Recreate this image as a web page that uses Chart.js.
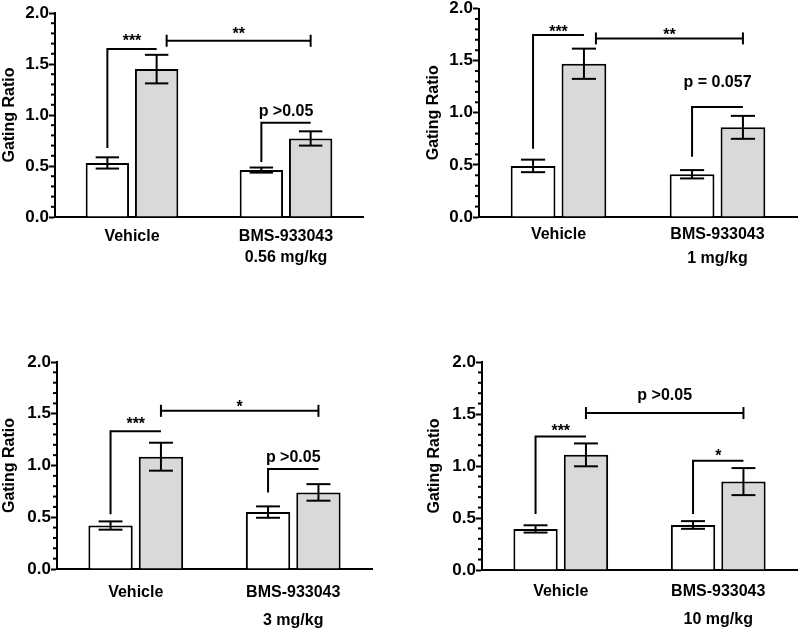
<!DOCTYPE html>
<html>
<head>
<meta charset="utf-8">
<script src="https://cdn.jsdelivr.net/npm/chart.js@4.4.1/dist/chart.umd.min.js"></script>
<style>
html,body{margin:0;padding:0;background:#fff;}
#wrap{position:relative;width:800px;height:632px;overflow:hidden;}
canvas{position:absolute;}
</style>
</head>
<body>
<div id="wrap">
<canvas id="c1" width="400" height="300" style="left:0;top:0"></canvas>
<canvas id="c2" width="400" height="300" style="left:400px;top:0"></canvas>
<canvas id="c3" width="400" height="312" style="left:0;top:320px"></canvas>
<canvas id="c4" width="400" height="312" style="left:400px;top:320px"></canvas>
</div>
<script>

// data
const categories = ["Vehicle", "BMS-933043"]
const doses = ["0.56 mg/kg", "1 mg/kg", "3 mg/kg", "10 mg/kg"]
const yTicks = [0, 0.5, 1.0, 1.5, 2.0]

const openMean1 = [0.53, 0.46]
const openSem1 = [0.055, 0.025]
const greyMean1 = [1.45, 0.77]
const greySem1 = [0.14, 0.07]

const openMean2 = [0.49, 0.41]
const openSem2 = [0.06, 0.04]
const greyMean2 = [1.47, 0.86]
const greySem2 = [0.145, 0.11]

const openMean3 = [0.42, 0.55]
const openSem3 = [0.04, 0.055]
const greyMean3 = [1.085, 0.74]
const greySem3 = [0.135, 0.08]

const openMean4 = [0.395, 0.433]
const openSem4 = [0.035, 0.037]
const greyMean4 = [1.107, 0.85]
const greySem4 = [0.11, 0.13]

// significance marks: a/b = [dataset, category], y in data units
const marks1 = [
{type:"leg", a:[0,0], b:[1,0], y0:0.676, y:1.647, text:"***", ty:1.678},
{type:"span", a:[1,0], b:[1,1], y:1.728, text:"**", ty:1.75, shift:10},
{type:"leg", a:[0,1], b:[1,1], y0:0.54, y:0.925, text:"p >0.05", ty:0.99}
]
const marks2 = [
{type:"leg", a:[0,0], b:[1,0], y0:0.654, y:1.746, text:"***", ty:1.73},
{type:"span", a:[1,0], b:[1,1], y:1.713, text:"**", ty:1.70, shift:12},
{type:"leg", a:[0,1], b:[1,1], y0:0.577, y:1.056, text:"p = 0.057", ty:1.243}
]
const marks3 = [
{type:"leg", a:[0,0], b:[1,0], y0:0.53, y:1.332, text:"***", ty:1.356},
{type:"span", a:[1,0], b:[1,1], y:1.528, text:"*", ty:1.52, shift:0},
{type:"leg", a:[0,1], b:[1,1], y0:0.738, y:0.966, text:"p >0.05", ty:1.029}
]
const marks4 = [
{type:"leg", a:[0,0], b:[1,0], y0:0.539, y:1.284, text:"***", ty:1.285},
{type:"span", a:[1,0], b:[1,1], y:1.509, text:"p >0.05", ty:1.63, shift:0},
{type:"leg", a:[0,1], b:[1,1], y0:0.539, y:1.05, text:"*", ty:1.048}
]

const marksPorPanel = {c1:marks1, c2:marks2, c3:marks3, c4:marks4}
const semPorPanel = {c1:[openSem1,greySem1], c2:[openSem2,greySem2], c3:[openSem3,greySem3], c4:[openSem4,greySem4]}

const FONT = "'Liberation Sans', Arial, sans-serif"

function line(ctx,x1,y1,x2,y2){
ctx.beginPath()
ctx.moveTo(x1,y1)
ctx.lineTo(x2,y2)
ctx.stroke()
}

const extras = {
id:"extras",
afterDraw(chart){

const ctx = chart.ctx
const ys = chart.scales.y
const area = chart.chartArea
const id = chart.canvas.id
const marks = marksPorPanel[id]
const sems = semPorPanel[id]

ctx.save()
ctx.strokeStyle = "#000"
ctx.fillStyle = "#000"
ctx.lineWidth = 2
ctx.lineCap = "butt"

// minor ticks, 4 between each major tick
for(let i=0;i<yTicks.length-1;i++){
const step = (yTicks[i+1]-yTicks[i])/5
for(let k=1;k<5;k++){
const py = ys.getPixelForValue(yTicks[i]+step*k)
line(ctx, area.left-4, py, area.left, py)
}
}

// error bars
chart.data.datasets.forEach((ds,di)=>{
chart.getDatasetMeta(di).data.forEach((bar,i)=>{
const v = ds.data[i]
const e = sems[di][i]
const t = ys.getPixelForValue(v+e)
const b = ys.getPixelForValue(v-e)
const hw = bar.width*0.27
line(ctx, bar.x, t, bar.x, b)
line(ctx, bar.x-hw, t, bar.x+hw, t)
line(ctx, bar.x-hw, b, bar.x+hw, b)
})
})

// brackets and p-values
ctx.font = "bold 16px " + FONT
ctx.textAlign = "center"
ctx.textBaseline = "alphabetic"

marks.forEach(m=>{
const xa = chart.getDatasetMeta(m.a[0]).data[m.a[1]].x + (m.shift||0)
const xb = chart.getDatasetMeta(m.b[0]).data[m.b[1]].x
const py = ys.getPixelForValue(m.y)

if(m.type==="leg"){
const p0 = ys.getPixelForValue(m.y0)
ctx.beginPath()
ctx.moveTo(xa,p0)
ctx.lineTo(xa,py)
ctx.lineTo(xb,py)
ctx.stroke()
}else{
line(ctx, xa, py, xb, py)
line(ctx, xa, py-6, xa, py+6)
line(ctx, xb, py-6, xb, py+6)
}

ctx.fillText(m.text, (xa+xb)/2, ys.getPixelForValue(m.ty))
})

ctx.restore()
}
}

function crearPanel(id, dose, openMean, greyMean, lay){

new Chart(document.getElementById(id),{

type:"bar",

data:{
labels:[categories[0], [categories[1], dose]],
datasets:[
{data:openMean, backgroundColor:"#ffffff", borderColor:"#000", borderWidth:2, borderSkipped:"bottom"},
{data:greyMean, backgroundColor:"#d8d9db", borderColor:"#000", borderWidth:2, borderSkipped:"bottom"}
]
},

options:{
responsive:false,
animation:false,
events:[],
layout:{padding:{left:lay.left, top:lay.top, right:lay.right, bottom:0}},
datasets:{bar:{categoryPercentage:0.64, barPercentage:0.88}},
plugins:{
legend:{display:false},
tooltip:{enabled:false}
},
scales:{
x:{
grid:{display:false, drawTicks:false},
border:{display:true, color:"#000", width:2},
ticks:{
color:"#000",
padding:lay.labPad,
maxRotation:0,
autoSkip:false,
font:{family:FONT, size:16, weight:"bold", lineHeight:lay.lh}
},
afterFit:s=>{ s.height = lay.xh }
},
y:{
min:0,
max:2,
grid:{drawOnChartArea:false, drawTicks:true, tickLength:6, tickWidth:2, tickColor:"#000"},
border:{display:true, color:"#000", width:2},
afterBuildTicks:s=>{ s.ticks = yTicks.map(v=>({value:v})) },
ticks:{
color:"#000",
padding:0,
callback:v=>Number(v).toFixed(1),
font:{family:FONT, size:17, weight:"bold", lineHeight:1}
},
title:{
display:true,
text:"Gating Ratio",
color:"#000",
padding:0,
font:{family:FONT, size:16, weight:"bold", lineHeight:1.2}
},
afterFit:s=>{ s.width = lay.yw }
}
}
},

plugins:[extras]

})

}

crearPanel("c1", doses[0], openMean1, greyMean1,
{left:0, top:13, right:37, yw:55, xh:83, labPad:9, lh:1.32})
crearPanel("c2", doses[1], openMean2, greyMean2,
{left:24, top:8, right:3, yw:55, xh:83, labPad:5, lh:1.52})
crearPanel("c3", doses[2], openMean3, greyMean3,
{left:0, top:42, right:28, yw:57, xh:63, labPad:10, lh:1.75})
crearPanel("c4", doses[3], openMean4, greyMean4,
{left:25, top:42, right:3, yw:57, xh:62, labPad:8, lh:1.72})

</script>
</body>
</html>
